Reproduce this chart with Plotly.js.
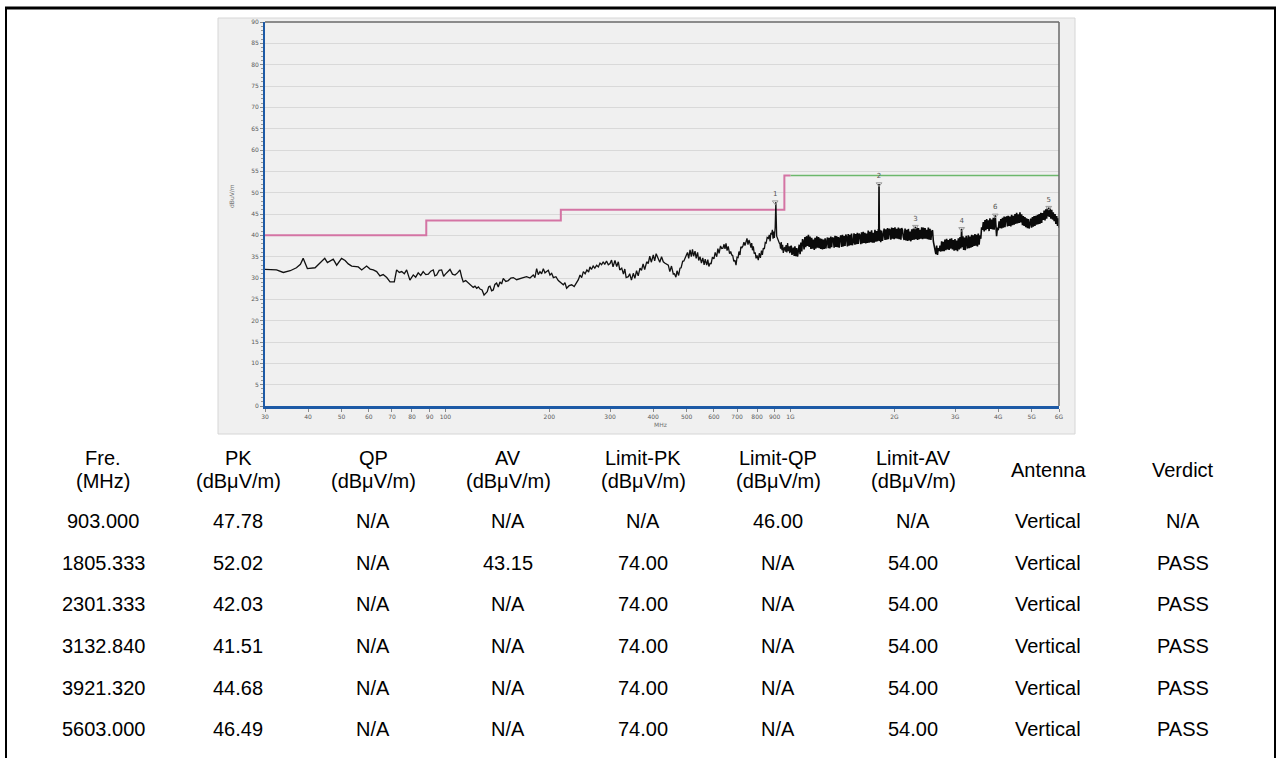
<!DOCTYPE html>
<html>
<head>
<meta charset="utf-8">
<script src="https://cdn.plot.ly/plotly-3.0.1.min.js"></script>
<style>
html,body{margin:0;padding:0;background:#fff;}
#chart{width:1279px;height:758px;}
</style>
</head>
<body>
<div id="chart"></div>
<script>
// ---------------- DATA ----------------
// measured trace, 30 MHz - 1 GHz
const lowFreq = [30,31,32.4,33.9,35.5,37,38,38.7,39.8,41.9,43.3,44.7,45.5,47.3,48.4,50,51.2,52.3,53.5,55.9,57.2,59.1,60.5,61.8,63.2,64.6,66,67.6,69.1,71.1,72.2,73.5,74.7,76,77.2,78.9,80.7,82,83.4,84.8,86.2,87.7,89.2,90.7,92.2,93.2,94.3,95.9,97.5,98.8,100,101.5,103.1,104.8,106.6,108.4,110.2,111.4,112.6,114.5,116.5,118.4,120.4,121.8,123.2,124.6,126,127.7,129.4,130.8,132.2,133.4,134.6,136.1,137.6,139.1,140.7,142.3,143.9,145.5,147.1,149.6,152.1,154.7,157.3,160.8,164.4,168.1,171.9,175.8,179.7,181.7,183.8,185.8,187.9,190,192.2,194.3,196.5,198.7,200.9,203.2,205.5,209,212.4,216,219.6,222,224.5,228.3,232.2,236.1,240.1,242.8,245.5,248.2,251,254,257,260,262.3,265,268,271,274.3,277.5,280.5,283.5,286.6,289.5,293,296.5,300,
303,306,310,313.6,317,320,324.3,328,331,334,338.8,342,346,350.3,354,358,362,366.3,370,374,378,383.1,387,391,395,400.3,404,408,413.9,418,423,427.9,432,437,442.5,447,452,457.5,461,465.6,469,474,478.4,482,487,491,494.6,498,503,507,511.5,516,520,524,528.9,533,538,542,546.8,552,557,562,566,571.7,576,580,584.5,589,594,600,605,611.2,616,621,627,632,637,642,646,650.4,655,660,666,671,675.5,680,685,690,695.3,700,705,709,713.9,718,723,728,733,738.1,743,748,753,758,763.4,768,772,776,780.4,785,790,795,800,806.6,812,818,824,829,834.1,840,845,850,856,862.6,868,873,877,881.9,886,890,894,898,903,907,912,916,920,925,929,932,936,940,945,949,953,958,962,967,971,976,981,986,990,995,1000];
const lowLevel = [32.0,31.9,31.9,31.3,31.7,32.4,33.2,34.6,32.2,32.4,33.4,34.6,33.6,34.4,33.0,34.6,34.1,33.3,32.8,32.6,31.9,32.8,32.1,31.9,31.5,30.5,30.8,30.1,29.1,29.1,31.9,31.3,31.5,31.0,31.9,29.5,30.7,30.2,31.2,30.6,31.5,30.8,30.9,31.6,31.9,30.5,30.7,31.8,31.9,30.4,30.9,31.5,32.0,30.9,30.7,31.2,31.9,30.3,29.1,29.4,28.9,28.5,27.8,28.1,27.6,27.9,27.4,27.2,26.0,26.4,26.8,27.9,28.1,27.0,27.2,28.5,28.8,27.9,29.1,28.6,29.9,29.2,29.4,30.0,30.1,29.6,29.9,30.1,30.3,30.0,30.7,30.1,32.2,30.8,31.5,31.0,32.2,31.2,31.5,31.8,30.7,31.1,30.1,30.3,29.4,29.0,28.4,28.9,27.6,28.2,28.4,28.0,28.9,29.6,30.7,30.1,31.5,31.0,31.9,31.4,32.6,32.0,32.8,32.3,33.0,32.6,33.5,33.1,33.8,33.2,34.0,33.1,33.4,
34.2,32.6,34.1,32.7,33.8,31.9,32.3,30.9,32.1,30.1,30.3,31.0,29.5,31.1,29.9,31.7,30.5,32.3,31.8,33.3,32.0,33.8,33.4,35.1,33.7,35.4,34.0,35.7,34.5,33.7,35.0,33.8,33.5,33.2,33.0,31.5,32.8,30.9,31.0,30.2,31.7,30.6,32.3,32.4,33.9,34.0,34.6,34.8,36.0,34.6,36.6,35.0,36.7,35.1,36.3,34.6,36.0,34.1,35.0,33.5,34.7,33.1,34.4,33.0,34.3,32.7,33.4,33.4,34.9,34.5,36.0,35.0,36.9,35.8,37.5,36.9,37.0,37.9,36.8,38.1,36.4,37.4,35.7,36.2,35.4,35.3,33.9,34.2,33.0,34.9,34.8,36.2,35.4,37.3,37.1,37.5,38.4,37.6,38.4,39.3,37.8,38.9,38.1,37.1,38.2,36.5,37.4,35.7,36.0,34.6,35.3,34.2,35.8,34.7,36.4,35.4,37.0,36.8,38.3,38.2,39.5,39.3,40.1,38.6,40.6,40.2,41.3,39.2,40.9,39.4,41.9,47.78,39.8,39.3,39.4,38.6,38.1,38.0,36.9,38.4,36.5,37.8,35.9,37.0,37.1,36.2,37.7,36.0,38.2,36.3,37.4,35.8,37.5,36.0];

// measured trace, 1 GHz - 6 GHz
const highFreq = [
1005,1010,1019,1025,1030,1036,1042,1048,1054,1060,
1066,1072,1078,1084,1089,1095,1101,1107,1113,1120,
1127,1133,1139,1146,1152,1158,1165,1172,1178,1185,
1192,1199,1206,1212,1217,1224,1231,1238,1245,1252,
1260,1266,1273,1280,1287,1294,1301,1309,1316,1323,
1331,1338,1346,1353,1361,1368,1376,1384,1391,1399,
1407,1415,1423,1431,1439,1446,1454,1462,1470,1478,
1487,1495,1503,1511,1520,1528,1537,1545,1554,1562,
1571,1580,1589,1598,1607,1616,1625,1634,1643,1652,
1662,1671,1680,1690,1699,1709,1718,1728,1738,1747,
1757,1767,1777,1787,1797,1801,1805.333,1810,1816,1826,
1836,1847,1858,1868,1879,1890,1900,1911,1922,1932,
1942,1953,1964,1975,1986,1997,2008,2020,2031,2043,
2054,2066,2077,2089,2100,2112,2123,2135,2148,2160,
2172,2184,2196,2208,2220,2233,2246,2258,2271,2284,
2301.333,2310,2323,2336,2349,2362,2373,2387,2400,2414,
2427,2441,2455,2467,2481,2495,2509,2523,2537,2552,
2566,2580,2595,2609,2623,2638,2652,2667,2681,2697,
2712,2727,2742,2757,2772,2788,2803,2819,2835,2850,
2866,2882,2898,2914,2930,2947,2964,2980,2997,3014,
3031,3048,3065,3082,3100,3115,3132.84,3145,3161,3175,
3193,3211,3230,3240,3258,3276,3295,3313,3331,3350,
3368,3386,3405,3424,3443,3462,3482,3501,3520,3540,
3560,3580,3601,3621,3641,3662,3682,3703,3722,3742,
3763,3784,3806,3827,3849,3870,3892,3921.32,3935,3956,
3978,4000,4023,4046,4069,4092,4115,4138,4161,4184,
4207,4230,4254,4278,4302,4326,4350,4374,4399,4421,
4448,4473,4498,4523,4548,4574,4599,4624,4650,4676,
4702,4728,4754,4780,4807,4834,4861,4888,4915,4942,
4969,4997,5025,5053,5081,5110,5139,5169,5197,5226,
5255,5285,5314,5344,5373,5401,5434,5464,5495,5525,
5556,5585,5603,5620,5651,5683,5715,5747,5775,5810,
5843,5876,5909,5942,5975,6000];
const highLevel = [
37.6,35.4,37.1,35.2,37.4,35.1,37.0,35.0,36.6,37.8,
35.6,38.3,36.2,39.1,38.6,36.7,39.6,37.2,39.8,37.5,
40.1,37.3,39.7,36.8,39.4,36.9,39.0,36.6,39.4,36.9,
39.8,37.1,39.6,37.0,39.3,36.8,39.2,36.7,39.0,36.8,
39.3,36.9,38.4,39.5,37.0,39.4,36.9,39.7,37.2,39.5,
39.3,37.1,39.9,37.3,39.8,37.2,39.6,37.1,39.2,40.0,
37.3,40.1,37.4,39.8,37.5,40.2,39.6,37.4,40.3,37.6,
40.1,37.7,40.4,37.7,38.4,40.5,37.8,40.3,37.9,40.6,
38.0,40.4,40.1,37.9,40.7,38.1,40.8,38.2,40.6,38.1,
40.4,38.2,41.1,38.3,40.8,38.4,41.2,38.3,40.6,38.3,
41.3,38.5,41.0,38.6,41.5,38.8,52.02,38.7,41.3,38.4,
41.1,38.7,40.6,41.6,38.9,41.4,39.0,41.7,39.1,41.5,
41.3,39.0,41.8,39.2,41.7,39.1,41.9,39.3,41.5,39.2,
41.8,39.1,41.6,39.0,41.7,41.2,39.6,38.9,41.6,38.8,
41.3,38.7,41.5,38.8,40.9,38.6,41.4,38.9,41.6,39.0,
42.03,39.1,41.8,38.9,41.7,39.1,41.3,39.2,41.9,39.1,
41.8,39.2,41.7,39.2,41.3,39.1,41.8,39.0,41.5,38.9,
40.9,41.2,38.5,37.6,36.2,35.6,37.6,35.4,37.0,36.3,
37.6,36.2,38.6,36.3,38.5,36.3,39.0,36.5,39.2,36.7,
38.9,36.6,39.2,36.9,39.3,36.7,38.9,36.4,39.1,36.5,
38.8,36.3,39.3,36.7,39.6,36.9,41.51,37.2,39.8,36.6,
39.5,36.5,39.9,39.2,36.9,40.0,37.0,39.7,37.1,40.1,
37.3,40.0,37.5,40.3,37.6,40.1,37.4,40.4,37.8,40.0,
39.2,41.9,41.3,43.1,40.9,43.6,41.2,43.8,41.5,43.5,
41.0,44.0,41.5,43.7,41.4,44.1,41.3,44.68,40.5,39.8,
41.8,41.2,43.3,41.7,43.8,41.6,44.1,41.8,44.4,41.9,
44.2,44.3,42.1,44.6,42.2,44.4,42.1,44.8,42.4,44.6,
42.5,45.0,42.7,45.3,42.8,44.9,42.9,45.4,43.0,44.9,
42.4,44.5,42.2,44.3,41.9,44.0,41.7,43.8,41.6,43.1,
43.9,41.8,44.3,42.0,44.5,42.2,44.6,42.5,44.8,42.6,
45.0,42.7,45.3,42.9,45.2,43.6,45.8,43.5,46.1,43.9,
46.4,44.5,46.49,44.3,46.3,43.9,46.0,43.7,45.4,43.3,
45.0,42.7,44.5,42.2,44.0,41.8];

// limit lines
const limitQPFreq = [30, 88, 216, 960, 1000];
const limitQPLevel = [40, 43.5, 46, 54, 54];
const limitAVFreq = [1000, 6000];
const limitAVLevel = [54, 54];

// marked peaks
const markFreq = [903.0, 1805.333, 2301.333, 3132.84, 3921.32, 5603.0];
const markLevel = [47.78, 52.02, 42.03, 41.51, 44.68, 46.49];
const markLabel = ['1', '2', '3', '4', '6', '5'];

// x axis ticks
const xTickVals = [30,40,50,60,70,80,90,100,200,300,400,500,600,700,800,900,1000,2000,3000,4000,5000,6000];
const xTickText = ['30','40','50','60','70','80','90','100','200','300','400','500','600','700','800','900','1G','2G','3G','4G','5G','6G'];

// table
const headTop = ['Fre.', 'PK', 'QP', 'AV', 'Limit-PK', 'Limit-QP', 'Limit-AV', 'Antenna', 'Verdict'];
const headBottom = ['(MHz)', '(dBμV/m)', '(dBμV/m)', '(dBμV/m)', '(dBμV/m)', '(dBμV/m)', '(dBμV/m)', '', ''];
const colFre = ['903.000', '1805.333', '2301.333', '3132.840', '3921.320', '5603.000'];
const colPK = ['47.78', '52.02', '42.03', '41.51', '44.68', '46.49'];
const colQP = ['N/A', 'N/A', 'N/A', 'N/A', 'N/A', 'N/A'];
const colAV = ['N/A', '43.15', 'N/A', 'N/A', 'N/A', 'N/A'];
const colLimPK = ['N/A', '74.00', '74.00', '74.00', '74.00', '74.00'];
const colLimQP = ['46.00', 'N/A', 'N/A', 'N/A', 'N/A', 'N/A'];
const colLimAV = ['N/A', '54.00', '54.00', '54.00', '54.00', '54.00'];
const colAntenna = ['Vertical', 'Vertical', 'Vertical', 'Vertical', 'Vertical', 'Vertical'];
const colVerdict = ['N/A', 'PASS', 'PASS', 'PASS', 'PASS', 'PASS'];

// ---------------- LAYOUT HELPERS ----------------
const W = 1279, H = 758;
const PL = 265, PR = 1059, PT = 22, PB = 406;
const px = x => (x - PL) / (PR - PL);
const py = y => (PB - y) / (PB - PT);

const tableCols = [colFre, colPK, colQP, colAV, colLimPK, colLimQP, colLimAV, colAntenna, colVerdict];
const colX = [103, 238, 373, 508, 643, 778, 913, 1048, 1183];
const rowY = [521, 563, 604, 646, 688, 729];
const tfont = {family: 'Liberation Sans, Arial, sans-serif', size: 20, color: '#000'};

const annotations = [];
headTop.forEach((h, i) => {
  if (headBottom[i]) {
    annotations.push({xref:'paper', yref:'paper', x:px(colX[i]), y:py(458), text:h, showarrow:false, xanchor:'center', yanchor:'middle', font:tfont});
    annotations.push({xref:'paper', yref:'paper', x:px(colX[i]), y:py(481), text:headBottom[i], showarrow:false, xanchor:'center', yanchor:'middle', font:tfont});
  } else {
    annotations.push({xref:'paper', yref:'paper', x:px(colX[i]), y:py(470), text:h, showarrow:false, xanchor:'center', yanchor:'middle', font:tfont});
  }
});
tableCols.forEach((col, i) => {
  col.forEach((v, r) => {
    annotations.push({xref:'paper', yref:'paper', x:px(colX[i]), y:py(rowY[r]), text:v, showarrow:false, xanchor:'center', yanchor:'middle', font:tfont});
  });
});
// axis captions
annotations.push({xref:'paper', yref:'paper', x:px(660), y:py(424), text:'MHz', showarrow:false, xanchor:'center', yanchor:'middle', font:{family:'DejaVu Sans, sans-serif', size:6, color:'#707070'}});
annotations.push({xref:'paper', yref:'paper', x:px(231), y:py(196), text:'dBuV/m', textangle:-90, showarrow:false, xanchor:'center', yanchor:'middle', font:{family:'DejaVu Sans, sans-serif', size:6, color:'#707070'}});

const shapes = [
  {type:'rect', xref:'paper', yref:'paper', x0:px(218), x1:px(1075), y0:py(434), y1:py(18), fillcolor:'#f0f0f0', line:{color:'#d6d6d6', width:1}, layer:'below'},
  {type:'line', xref:'paper', yref:'paper', x0:0, x1:1, y0:1, y1:1, line:{color:'#6a6a6a', width:1.5}},
  {type:'line', xref:'paper', yref:'paper', x0:1, x1:1, y0:0, y1:1, line:{color:'#6a6a6a', width:1.5}},
  {type:'line', xref:'paper', yref:'paper', x0:px(5), x1:px(1276), y0:py(8), y1:py(8), line:{color:'#000', width:3}},
  {type:'line', xref:'paper', yref:'paper', x0:px(6), x1:px(6), y0:py(7), y1:py(760), line:{color:'#000', width:2}},
  {type:'line', xref:'paper', yref:'paper', x0:px(1275), x1:px(1275), y0:py(7), y1:py(760), line:{color:'#000', width:2}}
];

const traces = [
  {x: limitQPFreq, y: limitQPLevel, type:'scatter', mode:'lines', line:{color:'#d474a4', width:2, shape:'hv'}, hoverinfo:'skip'},
  {x: limitAVFreq, y: limitAVLevel, type:'scatter', mode:'lines', line:{color:'#6cb86c', width:1.5}, hoverinfo:'skip'},
  {x: lowFreq, y: lowLevel, type:'scatter', mode:'lines', line:{color:'#111', width:1.3}, hoverinfo:'skip'},
  {x: [1000].concat(highFreq), y: [lowLevel[lowLevel.length-1]].concat(highLevel), type:'scatter', mode:'lines', line:{color:'#0a0a0a', width:1.6}, hoverinfo:'skip'},
  {x: markFreq, y: markLevel, type:'scatter', mode:'markers+text', text: markLabel, textposition:'top center',
   textfont:{family:'DejaVu Sans, sans-serif', size:7, color:'#555'},
   marker:{symbol:'triangle-down-open', size:5, color:'#999', line:{width:1, color:'#999'}}, hoverinfo:'skip', cliponaxis:false}
];

const layout = {
  width: W, height: H,
  margin: {l: PL, r: W - PR, t: PT, b: H - PB, pad: 0},
  paper_bgcolor: '#ffffff',
  plot_bgcolor: '#f0f0f0',
  showlegend: false,
  font: {family: 'DejaVu Sans, sans-serif', size: 7, color: '#666'},
  xaxis: {
    type: 'log', range: [Math.log10(30), Math.log10(6000)],
    tickmode: 'array', tickvals: xTickVals, ticktext: xTickText,
    showgrid: false, zeroline: false,
    showline: true, linecolor: '#1d5aa6', linewidth: 3,
    ticks: 'outside', ticklen: 3, tickcolor: '#888', tickwidth: 1,
    tickfont: {family: 'DejaVu Sans, sans-serif', size: 6, color: '#5a5a5a'},
    fixedrange: true
  },
  yaxis: {
    range: [0, 90], tickmode: 'linear', tick0: 0, dtick: 5,
    showgrid: true, gridcolor: '#d9d9d9', gridwidth: 1, zeroline: false,
    showline: true, linecolor: '#1d5aa6', linewidth: 2,
    ticks: 'outside', ticklen: 3, tickcolor: '#888', tickwidth: 1,
    minor: {dtick: 1, ticks: 'outside', ticklen: 2, tickcolor: '#999', showgrid: false},
    tickfont: {family: 'DejaVu Sans, sans-serif', size: 6, color: '#5a5a5a'},
    fixedrange: true
  },
  shapes: shapes,
  annotations: annotations
};

Plotly.newPlot('chart', traces, layout, {staticPlot: true, displayModeBar: false});
</script>
</body>
</html>
